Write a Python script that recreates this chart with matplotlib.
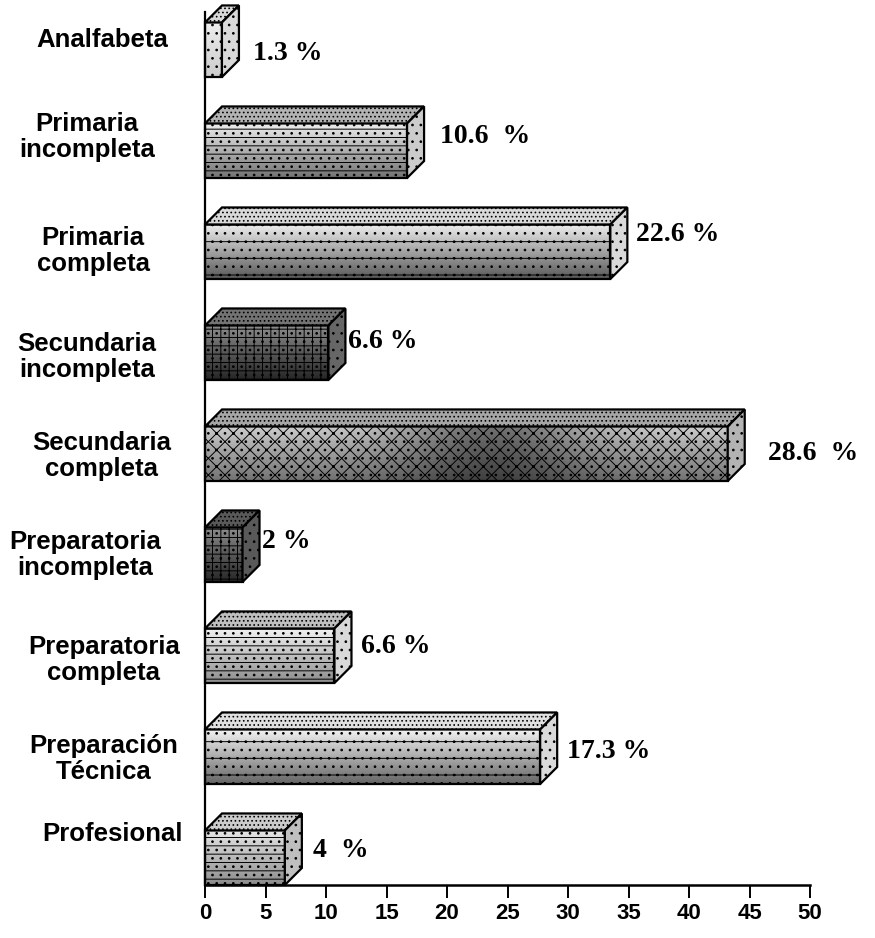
import numpy as np
import matplotlib
matplotlib.use("Agg")
import matplotlib.pyplot as plt
from matplotlib.patches import Polygon

# ---------------- data ----------------
categories = ["Analfabeta", "Primaria\nincompleta", "Primaria\ncompleta",
              "Secundaria\nincompleta", "Secundaria\ncompleta",
              "Preparatoria\nincompleta", "Preparatoria\ncompleta",
              "Preparación\nTécnica", "Profesional"]
bar_values = [1.4, 16.7, 33.5, 10.2, 43.2, 3.1, 10.7, 27.7, 6.6]
pct_labels = ["1.3 %", "10.6  %", "22.6 %", "6.6 %", "28.6  %", "2 %",
              "6.6 %", "17.3 %", "4  %"]
x_ticks = [0, 5, 10, 15, 20, 25, 30, 35, 40, 45, 50]

# ---------------- style / layout ----------------
W, H = 875, 938
AX_L, AX_R, AX_B, AX_T = 205, 810, 885, 12        # pixel box of the axes
XMAX = 50
PX_PER_X = (AX_R - AX_L) / XMAX
ROW_PX = 101.0
BAR_H = 0.54
DEPTH_PX = 17

# gray gradient (top, bottom), darkening blob strength, hatch
face_top = [0.93, 0.93, 0.93, 0.55, 0.80, 0.55, 0.95, 0.95, 0.90]
face_bot = [0.80, 0.45, 0.35, 0.15, 0.45, 0.15, 0.55, 0.40, 0.55]
blob = [0, 0, 0, 0, 0.45, 0, 0, 0, 0]
hatches = ["..", "--..", "-..", "++..", "xx..", "++..", "--..", "-..", "--.."]
top_gray = [0.85, 0.70, 0.85, 0.45, 0.65, 0.35, 0.75, 0.88, 0.80]
side_gray = [0.85, 0.80, 0.85, 0.40, 0.70, 0.35, 0.85, 0.85, 0.75]

# category label placement (pixel x-centre, pixel offset from bar centre; + = down)
cat_x_px = [102, 87, 93, 87, 102, 85, 104, 104, 112]
cat_dy_px = [-9.5, -13.5, -1, 4.5, 2.5, 0, 4.5, 2.5, -23.5]
# percent label placement (pixel gap after bar back, pixel offset from bar centre)
pct_gap_px = [14, 16, 9, 3, 23, 2, 10, 10, 11]
pct_dy_px = [4, -14.5, -17, -11.5, 0, -13.5, -9.5, -5.5, -7.5]

plt.rcParams["hatch.linewidth"] = 0.7
plt.rcParams["hatch.color"] = "#222222"

fig = plt.figure(figsize=(W / 100, H / 100), dpi=100)
ax = fig.add_axes([AX_L / W, (H - AX_B) / H, (AX_R - AX_L) / W, (AX_B - AX_T) / H])

n = len(categories)
ypos = [n - 1 - i for i in range(n)]
ylow = -BAR_H / 2
ytop = ylow + (AX_B - AX_T) / ROW_PX
ax.set_xlim(0, XMAX)
ax.set_ylim(ylow, ytop)

dx = DEPTH_PX / PX_PER_X
dy = DEPTH_PX / ROW_PX

bars = ax.barh(ypos, bar_values, height=BAR_H, facecolor="none",
               edgecolor="black", linewidth=1.6, zorder=3)

for i, p in enumerate(bars.patches):
    x0, y0, w, h = p.get_x(), p.get_y(), p.get_width(), p.get_height()
    p.set_hatch(hatches[i])
    p.set_clip_on(False)
    # gradient fill of the front face
    v = np.linspace(face_top[i], face_bot[i], 60)[:, None]
    u = np.linspace(0, 1, 200)[None, :]
    img = v * (1 - blob[i] * np.exp(-((u - 0.55) / 0.18) ** 2))
    im = ax.imshow(img, extent=(x0, x0 + w, y0, y0 + h), cmap="gray", vmin=0, vmax=1,
                   aspect="auto", origin="upper", interpolation="bilinear", zorder=2)
    im.set_clip_on(False)
    # top face
    top = Polygon([(x0, y0 + h), (x0 + w, y0 + h), (x0 + w + dx, y0 + h + dy),
                   (x0 + dx, y0 + h + dy)], closed=True,
                  facecolor=str(top_gray[i]), edgecolor="black", linewidth=1.6,
                  hatch="....", zorder=3, clip_on=False)
    ax.add_patch(top)
    # side face
    side = Polygon([(x0 + w, y0), (x0 + w + dx, y0 + dy), (x0 + w + dx, y0 + h + dy),
                    (x0 + w, y0 + h)], closed=True,
                   facecolor=str(side_gray[i]), edgecolor="black", linewidth=1.6,
                   hatch="..", zorder=3, clip_on=False)
    ax.add_patch(side)
    # percent label
    ax.text(x0 + w + dx + pct_gap_px[i] / PX_PER_X,
            ypos[i] - pct_dy_px[i] / ROW_PX, pct_labels[i],
            family="Liberation Serif", weight="bold", fontsize=20,
            ha="left", va="center", zorder=5)

ax.set_xlim(0, XMAX)
ax.set_ylim(ylow, ytop)

# category labels
for i, lab in enumerate(categories):
    xf = cat_x_px[i] / W
    y_data = ypos[i] - cat_dy_px[i] / ROW_PX
    yf = ax.transData.transform((0, y_data))[1] / fig.bbox.height
    fig.text(xf, yf, lab, family="Liberation Sans", weight="bold", fontsize=18.5,
             ha="center", va="center", multialignment="center", linespacing=1.1)

# axes styling
for s in ["top", "right"]:
    ax.spines[s].set_visible(False)
ax.spines["left"].set_linewidth(1.6)
ax.spines["bottom"].set_linewidth(1.8)
ax.set_yticks([])
ax.set_xticks(x_ticks)
ax.set_xticklabels([str(t) for t in x_ticks])
ax.tick_params(axis="x", direction="out", length=9, width=1.4, pad=4)
for t in ax.get_xticklabels():
    t.set_family(["Liberation Sans Narrow", "Liberation Sans"])
    t.set_weight("bold")
    t.set_fontsize(16)

fig.savefig("out.png", dpi=100)
